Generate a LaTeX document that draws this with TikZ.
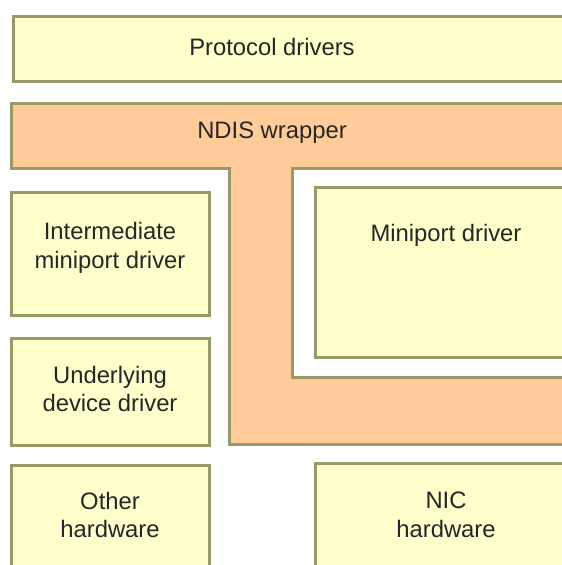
\documentclass[tikz,border=0pt]{standalone}
\usepackage{fontspec}
\setmainfont{Liberation Sans}
\definecolor{boxfill}{RGB}{255,255,204}
\definecolor{wrapfill}{RGB}{255,204,153}
\definecolor{edge}{RGB}{153,153,102}
\begin{document}
\begin{tikzpicture}[x=1pt,y=-1pt,
  layer/.style={draw=edge,line width=3pt,fill=boxfill},
  wrapper/.style={draw=edge,line width=3pt,fill=wrapfill,line join=miter},
  caption/.style={font=\fontsize{23.8}{28.5}\selectfont,align=center,text=black!85,inner sep=0pt}]
  \useasboundingbox (0,0) rectangle (562,565);
  \clip (0,0) rectangle (562,565);

  % upper protocol layer
  \draw[layer] (13,16) rectangle (600,81);
  \node[caption] (proto) at (272,47) {Protocol drivers};

  % NDIS wrapper: top band, stem and lower band around the miniport
  \draw[wrapper] (600,103) -- (11,103) -- (11,168) -- (229,168) -- (229,444)
    -- (600,444) -- (600,377) -- (292,377) -- (292,168) -- (600,168) -- cycle;
  \node[caption] (ndis) at (272,133) {NDIS wrapper};

  % drivers
  \draw[layer] (11,192) rectangle (209,315);
  \node[caption] (imd) at (110,248) {Intermediate\\miniport driver};

  \draw[layer] (315,187) rectangle (600,357);
  \node[caption] (mini) at (446,235) {Miniport driver};

  \draw[layer] (11,338) rectangle (209,445);
  \node[caption] (under) at (110,389) {Underlying\\device driver};

  % hardware
  \draw[layer] (11,465) rectangle (209,600);
  \node[caption] (other) at (110,515) {Other\\hardware};

  \draw[layer] (315,463) rectangle (600,600);
  \node[caption] (nic) at (446,515) {NIC\\hardware};
\end{tikzpicture}
\end{document}
